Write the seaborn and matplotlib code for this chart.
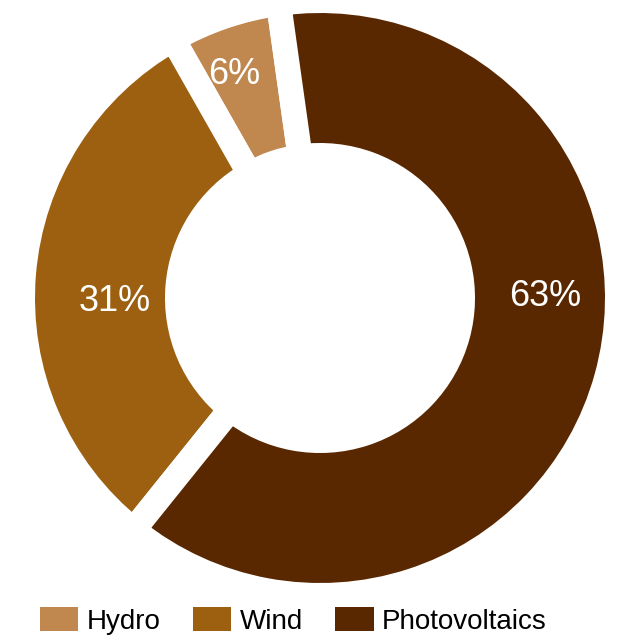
import matplotlib
matplotlib.use("Agg")
import numpy as np
import matplotlib.pyplot as plt
from matplotlib.patches import Patch
import seaborn as sns

# data
sources = ["Hydro", "Wind", "Photovoltaics"]
shares = [6, 31, 63]
colours = ["#c0874f", "#9c6010", "#5a2800"]

sns.set_theme(style="white")
plt.rcParams["font.family"] = ["Liberation Sans", "DejaVu Sans"]

W, H = 624, 639
fig = plt.figure(figsize=(W / 100, H / 100), dpi=100)

# donut centre and size in pixels
cx, cy, r_px = 320, 298, 285
lim = 1.08
half = lim * r_px
ax = fig.add_axes([(cx - half) / W, (H - cy - half) / H, 2 * half / W, 2 * half / H])

lw = 18
pad = lw * 100 / 72 / 2 / r_px
wedges, texts, autotexts = ax.pie(
    shares,
    colors=colours,
    startangle=98,
    counterclock=True,
    radius=1 + pad,
    autopct="%d%%",
    wedgeprops=dict(width=(285 - 155) / r_px + 2 * pad, edgecolor="white", linewidth=lw),
    textprops=dict(color="white", fontsize=26),
)
# label placement (angle in degrees, distance in radius units)
label_ang = [111, 181, 0.5]
label_r = [0.84, 0.72, 0.79]
for t, a, r in zip(autotexts, label_ang, label_r):
    t.set_position((r * np.cos(np.radians(a)), r * np.sin(np.radians(a))))
    t.set_va("center")
    t.set_ha("center")

ax.set_xlim(-lim, lim)
ax.set_ylim(-lim, lim)
ax.set_aspect("equal")
ax.axis("off")

handles = [Patch(facecolor=c, edgecolor="none") for c in colours]
fig.legend(
    handles, sources,
    loc="center", bbox_to_anchor=(0.47, 1 - 621 / H),
    ncol=3, frameon=False, fontsize=20, labelcolor="black",
    handlelength=1.4, handleheight=0.97, handletextpad=0.3, columnspacing=1.15,
    borderpad=0, borderaxespad=0,
)

fig.savefig("out.png", dpi=100, facecolor="white")
